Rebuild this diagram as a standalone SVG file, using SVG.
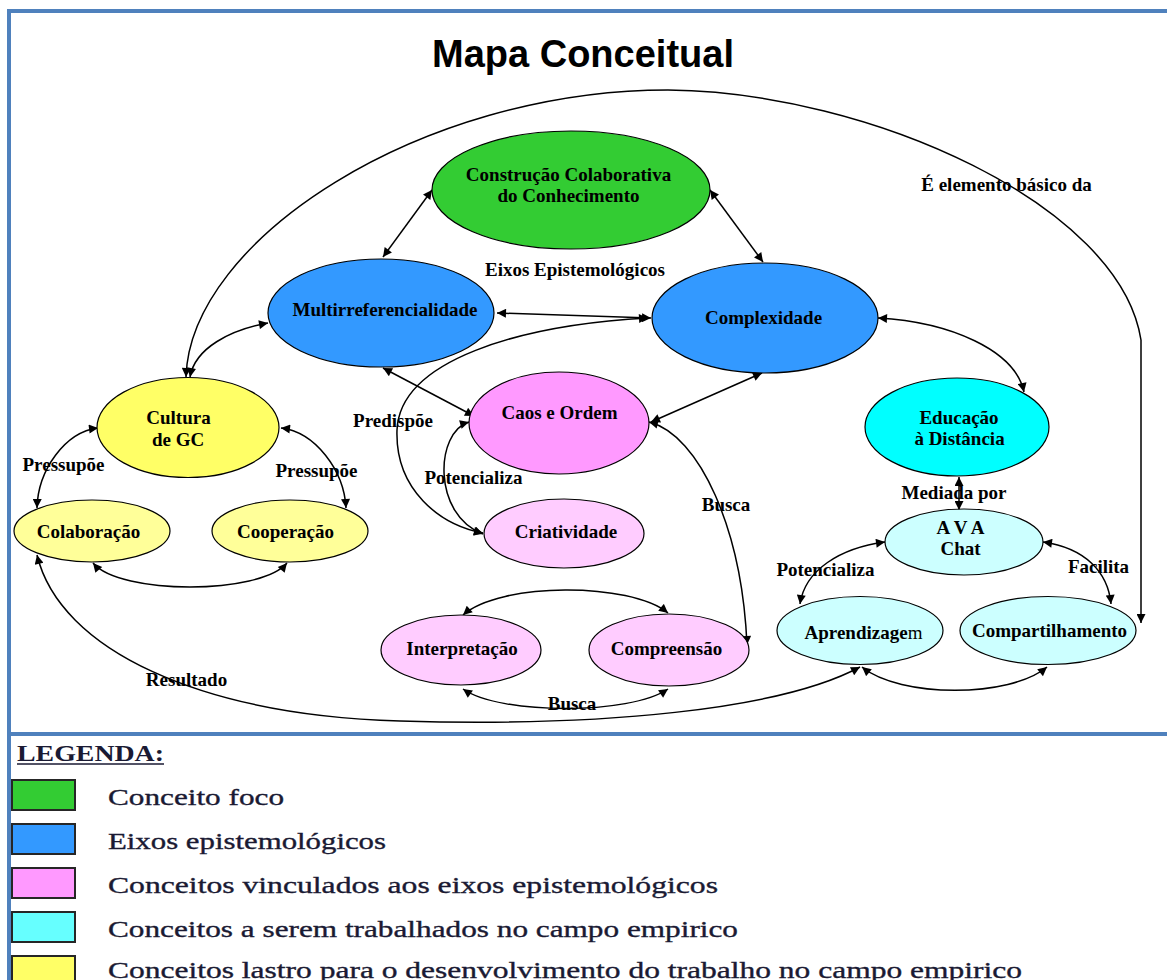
<svg xmlns="http://www.w3.org/2000/svg" width="1167" height="980" viewBox="0 0 1167 980">
  <defs>
    <marker id="ah" viewBox="0 0 10 10" refX="10" refY="5" markerWidth="11" markerHeight="9" orient="auto-start-reverse" markerUnits="userSpaceOnUse">
      <path d="M0,0 L10,5 L0,10 z" fill="#000"/>
    </marker>
    <style>
      .node ellipse { stroke: #000; stroke-width: 1.2; }
      .lbl { font-family: "Liberation Serif", "Times New Roman", serif; font-weight: bold; font-size: 19px; fill: #000; text-anchor: middle; }
      .conn path { fill: none; stroke: #000; stroke-width: 1.5; marker-start: url(#ah); marker-end: url(#ah); }
      .frame { stroke: #4f81bd; stroke-width: 4; fill: none; }
      .leg { font-family: "Liberation Serif", "Times New Roman", serif; font-size: 23px; fill: #1a1a33; stroke: #1a1a33; stroke-width: 0.35; }
      .sw { stroke: #262626; stroke-width: 2; }
    </style>
  </defs>

  <rect width="1167" height="980" fill="#fff"/>

  <!-- frame and separator -->
  <path class="frame" d="M9 980 V11 H1167"/>
  <path class="frame" d="M7 734 H1167"/>

  <!-- title -->
  <text x="583" y="67" font-family="'Liberation Sans', Arial, sans-serif" font-weight="bold" font-size="38" text-anchor="middle" fill="#000">Mapa Conceitual</text>

  <!-- connectors -->
  <g id="connectors" class="conn">
    <path d="M432 190 L383 257"/>
    <path d="M710 190 L763 262"/>
    <path d="M497 313 L651 318"/>
    <path d="M648 318 C520 325 400 360 397 430 C395 490 440 525 483 533"/>
    <path d="M383 368 L474 416"/>
    <path d="M762 373 L651 422"/>
    <path d="M469 422 C435 432 432 515 483 534"/>
    <path d="M649 422 C700 435 742 530 747 645"/>
    <path d="M463 615 C500 582 630 582 668 613"/>
    <path d="M463 689 C500 715 630 715 668 689"/>
    <path d="M98 428 C65 432 38 470 37 508"/>
    <path d="M281 428 C315 432 344 470 346 508"/>
    <path d="M93 563 C120 595 260 595 287 563"/>
    <path d="M268 323 C230 330 195 348 190 377"/>
    <path d="M186 377 C190 240 420 90 668 90 C870 92 1120 205 1141 340 L1141 623"/>
    <path d="M37 555 C60 650 200 715 400 721 C600 727 780 710 860 667"/>
    <path d="M878 318 C950 322 1015 350 1024 392"/>
    <path d="M959 477 L959 510"/>
    <path d="M885 542 C840 548 805 570 800 604"/>
    <path d="M1043 542 C1085 548 1108 572 1111 604"/>
    <path d="M862 667 C900 698 1010 698 1047 667"/>
  </g>

  <!-- nodes -->
  <g id="construcao" class="node">
    <ellipse cx="571" cy="190" rx="139" ry="59" fill="#33cc33"/>
    <text class="lbl" x="568.5" y="181">Construção Colaborativa</text>
    <text class="lbl" x="568.5" y="202">do Conhecimento</text>
  </g>
  <g id="multirreferencialidade" class="node">
    <ellipse cx="381" cy="313" rx="113" ry="54" fill="#3399ff"/>
    <text class="lbl" x="385" y="316">Multirreferencialidade</text>
  </g>
  <g id="complexidade" class="node">
    <ellipse cx="765" cy="318" rx="113" ry="55" fill="#3399ff"/>
    <text class="lbl" x="763.5" y="324">Complexidade</text>
  </g>
  <g id="cultura" class="node">
    <ellipse cx="188" cy="427.5" rx="91" ry="50" fill="#ffff66"/>
    <text class="lbl" x="178.5" y="424">Cultura</text>
    <text class="lbl" x="178" y="446">de GC</text>
  </g>
  <g id="colaboracao" class="node">
    <ellipse cx="92" cy="531" rx="78" ry="31" fill="#ffff99"/>
    <text class="lbl" x="88.5" y="538">Colaboração</text>
  </g>
  <g id="cooperacao" class="node">
    <ellipse cx="290" cy="531" rx="78" ry="31" fill="#ffff99"/>
    <text class="lbl" x="285.5" y="538">Cooperação</text>
  </g>
  <g id="caos" class="node">
    <ellipse cx="559" cy="423" rx="90" ry="51" fill="#ff99ff"/>
    <text class="lbl" x="559.5" y="419">Caos e Ordem</text>
  </g>
  <g id="criatividade" class="node">
    <ellipse cx="564" cy="533.5" rx="80" ry="34.5" fill="#ffccff"/>
    <text class="lbl" x="566" y="538">Criatividade</text>
  </g>
  <g id="interpretacao" class="node">
    <ellipse cx="461" cy="650" rx="80" ry="35" fill="#ffccff"/>
    <text class="lbl" x="462" y="655">Interpretação</text>
  </g>
  <g id="compreensao" class="node">
    <ellipse cx="669" cy="650" rx="80" ry="36" fill="#ffccff"/>
    <text class="lbl" x="666.5" y="655">Compreensão</text>
  </g>
  <g id="educacao" class="node">
    <ellipse cx="957" cy="427" rx="92" ry="49" fill="#00ffff"/>
    <text class="lbl" x="959" y="424">Educação</text>
    <text class="lbl" x="959.5" y="445">à Distância</text>
  </g>
  <g id="ava" class="node">
    <ellipse cx="964" cy="542" rx="79" ry="33" fill="#ccffff"/>
    <text class="lbl" x="960.5" y="534">A V A</text>
    <text class="lbl" x="960.5" y="555">Chat</text>
  </g>
  <g id="aprendizagem" class="node">
    <ellipse cx="860" cy="630.5" rx="83" ry="34" fill="#ccffff"/>
    <text class="lbl" x="863.5" y="639">Aprendizage<tspan font-weight="normal">m</tspan></text>
  </g>
  <g id="compartilhamento" class="node">
    <ellipse cx="1048" cy="630.5" rx="88" ry="34" fill="#ccffff"/>
    <text class="lbl" x="1049.5" y="637">Compartilhamento</text>
  </g>

  <!-- connector labels -->
  <g id="labels">
    <text class="lbl" x="575" y="276">Eixos Epistemológicos</text>
    <text class="lbl" x="1006.5" y="191">É elemento básico da</text>
    <text class="lbl" x="63.5" y="471">Pressupõe</text>
    <text class="lbl" x="316.5" y="477">Pressupõe</text>
    <text class="lbl" x="393" y="427">Predispõe</text>
    <text class="lbl" x="473.5" y="484">Potencializa</text>
    <text class="lbl" x="726" y="511">Busca</text>
    <text class="lbl" x="572" y="710">Busca</text>
    <text class="lbl" x="186.5" y="686">Resultado</text>
    <text class="lbl" x="954" y="499">Mediada por</text>
    <text class="lbl" x="825.5" y="576">Potencializa</text>
    <text class="lbl" x="1098.5" y="573">Facilita</text>
  </g>

  <!-- legend -->
  <g id="legend">
    <text x="17" y="761" font-family="'Liberation Serif', 'Times New Roman', serif" font-weight="bold" font-size="23" fill="#1a1a33" textLength="147" lengthAdjust="spacingAndGlyphs">LEGENDA:</text>
    <line x1="17" y1="764" x2="164" y2="764" stroke="#1a1a33" stroke-width="1.5"/>
    <rect class="sw" x="12" y="780" width="63" height="30" fill="#33cc33"/>
    <rect class="sw" x="12" y="824" width="63" height="30" fill="#3399ff"/>
    <rect class="sw" x="12" y="868" width="63" height="30" fill="#ff99ff"/>
    <rect class="sw" x="12" y="912" width="63" height="30" fill="#66ffff"/>
    <rect class="sw" x="12" y="956" width="63" height="30" fill="#ffff66"/>
    <text class="leg" x="108" y="805" textLength="176" lengthAdjust="spacingAndGlyphs">Conceito foco</text>
    <text class="leg" x="108" y="849" textLength="278" lengthAdjust="spacingAndGlyphs">Eixos epistemológicos</text>
    <text class="leg" x="108" y="893" textLength="610" lengthAdjust="spacingAndGlyphs">Conceitos vinculados aos eixos epistemológicos</text>
    <text class="leg" x="108" y="937" textLength="630" lengthAdjust="spacingAndGlyphs">Conceitos a serem trabalhados no campo empirico</text>
    <text class="leg" x="108" y="978" textLength="914" lengthAdjust="spacingAndGlyphs">Conceitos lastro para o desenvolvimento do trabalho no campo empirico</text>
  </g>
</svg>
